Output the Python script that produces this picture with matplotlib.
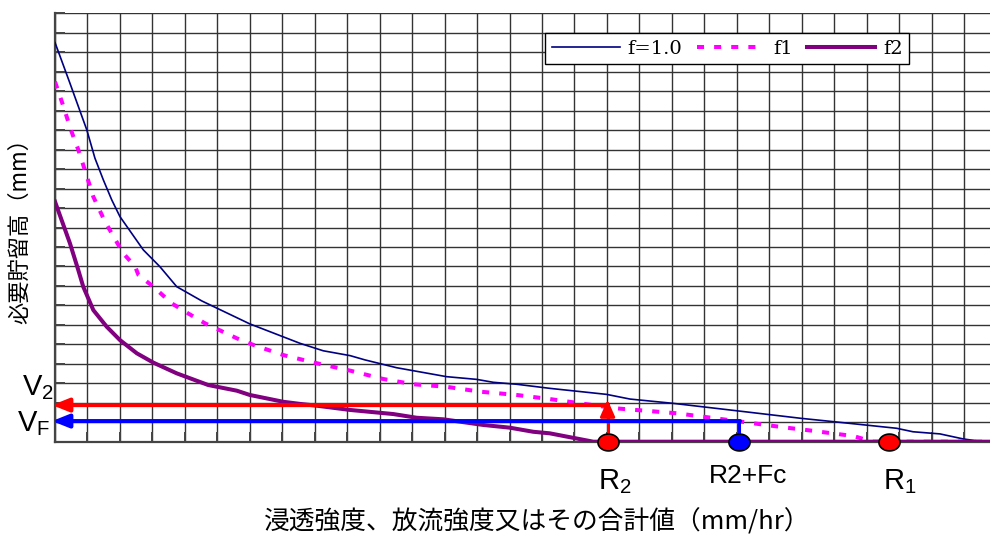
import numpy as np
import matplotlib
matplotlib.use("Agg")
import matplotlib.pyplot as plt

plt.rcParams['font.family'] = ['Noto Sans CJK JP', 'DejaVu Sans']
plt.rcParams['mathtext.fontset'] = 'custom'
plt.rcParams['mathtext.rm'] = 'Liberation Sans'
plt.rcParams['mathtext.it'] = 'Liberation Sans:italic'

# ---------------- data (grid units: x = intensity, y = storage) ---------------- #
x_f10 = [0.0, 0.46, 0.98, 1.23, 1.49, 1.75, 2.0, 2.72, 3.23, 3.75, 4.52, 6.0, 7.55, 8.26,
         9.09, 9.55, 10.52, 12.06, 12.99, 13.5, 14.22, 15.24, 16.99, 17.71, 19.04, 20.99,
         22.98, 23.97, 25.92, 26.43, 27.26, 27.98, 28.58, 28.8]
y_f10 = [20.5, 18.41, 16.01, 14.56, 13.44, 12.41, 11.56, 9.85, 8.99, 7.96, 7.23, 6.05, 5.05, 4.67,
         4.42, 4.2, 3.8, 3.34, 3.2, 3.05, 2.95, 2.74, 2.43, 2.19, 1.97, 1.59,
         1.2, 1.03, 0.69, 0.51, 0.4, 0.14, 0.0, 0.0]

x_f1 = [0.0, 0.21, 0.51, 0.72, 0.92, 1.18, 1.54, 2.1, 2.47, 2.57, 3.03, 3.59, 4.1, 4.62,
        5.6, 6.11, 7.03, 8.06, 9.09, 10.11, 11.04, 12.06, 13.09, 14.22, 15.24, 17.3,
        19.15, 20.99, 22.53, 23.15, 24.59, 25.2, 28.8]
y_f1 = [18.49, 17.46, 15.92, 14.98, 13.95, 12.58, 11.3, 9.68, 8.99, 8.56, 7.96, 7.11, 6.59, 6.08,
        5.31, 4.97, 4.45, 4.03, 3.65, 3.22, 2.95, 2.82, 2.57, 2.4, 2.19, 1.71,
        1.46, 1.06, 0.72, 0.6, 0.29, 0.0, 0.0]

x_f2 = [0.0, 0.46, 0.72, 0.87, 1.18, 1.59, 2.0, 2.52, 3.03, 3.75, 4.72, 5.6, 6.0, 7.03,
        7.55, 8.06, 9.09, 10.42, 11.14, 11.96, 13.19, 14.01, 14.73, 15.24, 16.58, 28.8]
y_f2 = [12.33, 10.19, 8.8, 7.96, 6.76, 5.91, 5.22, 4.54, 4.06, 3.51, 2.91, 2.62, 2.4, 2.05,
        1.94, 1.85, 1.63, 1.42, 1.23, 1.15, 0.86, 0.72, 0.51, 0.43, 0.0, 0.0]

series_labels = ['f=1.0', 'f1', 'f2']

R2 = 17.02
R2_Fc = 21.07
R1 = 25.7
V2 = 1.88
VF = 1.06

x_max = 28.8
y_max = 22

# ---------------- figure ---------------- #
fig = plt.figure(figsize=(9.9, 5.34), dpi=100)
ax = fig.add_axes([55 / 990, 92.3 / 534, 935 / 990, 428.4 / 534])
ax.set_xlim(0, x_max)
ax.set_ylim(0, y_max)
ax.set_xticks(np.arange(0, 29, 1))
ax.set_yticks(np.arange(0, 23, 1))
ax.grid(True, color='#333333', linewidth=1.0)
ax.set_axisbelow(True)
ax.tick_params(direction='in', length=7, width=1.4, color='#444444',
               labelleft=False, labelbottom=False)
for side in ['right', 'top']:
    ax.spines[side].set_visible(False)
for side in ['left', 'bottom']:
    ax.spines[side].set_color('#444444')
    ax.spines[side].set_linewidth(1.6)

ax.plot(x_f10, y_f10, color='#000080', lw=1.2, label=series_labels[0], zorder=3)
ax.plot(x_f1, y_f1, color='#FF00FF', lw=2.9, linestyle=(0, (1.75, 2.5)),
        label=series_labels[1], zorder=3)
ax.plot(x_f2, y_f2, color='#800080', lw=2.9, label=series_labels[2], zorder=4)

# ---------------- arrows ---------------- #
tip = -0.09
ax.plot([R2, R2], [0, 1.9], color='#FF0000', lw=2.2, zorder=5)
ax.annotate('', xy=(R2, 2.16), xytext=(R2, 1.5), annotation_clip=False,
            arrowprops=dict(arrowstyle='-|>,head_length=0.5,head_width=0.22', color='#FF0000',
                            lw=2.2, shrinkA=0, shrinkB=0, mutation_scale=20), zorder=6)
ax.annotate('', xy=(tip, V2), xytext=(R2, V2), annotation_clip=False,
            arrowprops=dict(arrowstyle='-|>,head_length=0.5,head_width=0.2', color='#FF0000',
                            lw=2.9, shrinkA=0, shrinkB=0, mutation_scale=20), zorder=6)
ax.plot([R2_Fc, R2_Fc], [0, VF], color='#0000FF', lw=2.2, zorder=5)
ax.annotate('', xy=(tip, VF), xytext=(R2_Fc + 0.03, VF), annotation_clip=False,
            arrowprops=dict(arrowstyle='-|>,head_length=0.5,head_width=0.2', color='#0000FF',
                            lw=2.9, shrinkA=0, shrinkB=0, mutation_scale=20), zorder=6)

# ---------------- points ---------------- #
t = np.linspace(0, 2 * np.pi, 60)
ellipse = list(zip(np.cos(t), 0.8 * np.sin(t)))
ax.scatter([R2, R1], [0, 0], marker=ellipse, s=230, color='#FF0000', edgecolor='black',
           linewidth=1.2, zorder=8, clip_on=False)
ax.scatter([R2_Fc], [0], marker=ellipse, s=230, color='#0000FF', edgecolor='black',
           linewidth=1.2, zorder=8, clip_on=False)

# ---------------- labels ---------------- #
lab = dict(textcoords='offset pixels', fontfamily='Liberation Sans', annotation_clip=False)
ax.annotate(r'V$_\mathrm{2}$', xy=(0, V2), xytext=(-1, 10), ha='right', va='baseline',
            fontsize=21, **lab)
ax.annotate(r'V$_\mathrm{F}$', xy=(0, VF), xytext=(-5, -10), ha='right', va='baseline',
            fontsize=21, **lab)
ax.annotate(r'R$_\mathrm{2}$', xy=(R2, 0), xytext=(-10, -48), ha='left', va='baseline',
            fontsize=21, **lab)
ax.annotate('R2+Fc', xy=(R2_Fc, 0), xytext=(9, -41), ha='center', va='baseline',
            fontsize=19, **lab)
ax.annotate(r'R$_\mathrm{1}$', xy=(R1, 0), xytext=(-6, -48), ha='left', va='baseline',
            fontsize=21, **lab)

fig.text(20 / 990, 1 - 225 / 534, '必要貯留高（mm）', rotation=90, ha='center', va='center',
         fontsize=16)
fig.text(537 / 990, 1 - 522 / 534, '浸透強度、放流強度又はその合計値（mm/hr）', ha='center',
         va='center', fontsize=18.5)

leg = ax.legend(loc='upper right', bbox_to_anchor=((909.3 - 55) / 935, (441.7 - 32.7) / 428.4),
                borderaxespad=0, ncol=3, fancybox=False, framealpha=1, edgecolor='black',
                prop={'family': 'DejaVu Serif', 'size': 14}, handlelength=3.5,
                handletextpad=0.4, columnspacing=0.75, borderpad=0.35)
leg.get_frame().set_linewidth(1.0)
leg.set_zorder(10)

fig.savefig('out.png', dpi=100)
